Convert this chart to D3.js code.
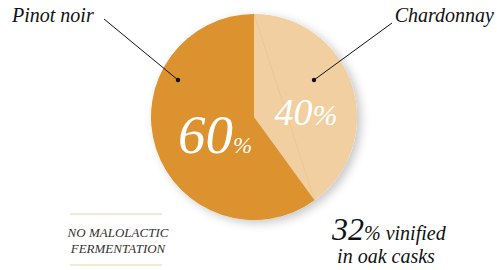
<!DOCTYPE html>
<html>
<head>
<meta charset="utf-8">
<script src="https://cdn.jsdelivr.net/npm/d3@7"></script>
<style>
  html, body { margin: 0; padding: 0; background: #fff; }
  svg { display: block; }
</style>
</head>
<body>
<div id="chart"></div>
<script>
    var categories = ["Chardonnay", "Pinot noir"];
    var values = [40, 60];
    var colors = ["#f1cfa1", "#dc922e"];
    var oakShare = 32;
    var noteLines = ["NO MALOLACTIC", "FERMENTATION"];

    var svg = d3.select("#chart")
                .append("svg")
                .attr("width", 497)
                .attr("height", 270);

    var cx = 254, cy = 117, radius = 103;

    function label(parent, x, y) {
      return parent.append("text")
                   .attr("x", x)
                   .attr("y", y)
                   .attr("font-family", "Liberation Serif")
                   .attr("font-style", "italic");
    }

    var defs = svg.append("defs");
    var shadow = defs.append("filter")
                     .attr("id", "shadow")
                     .attr("x", "-20%").attr("y", "-20%")
                     .attr("width", "140%").attr("height", "140%");
    shadow.append("feDropShadow")
          .attr("dx", 4).attr("dy", 3)
          .attr("stdDeviation", 5)
          .attr("flood-color", "#000")
          .attr("flood-opacity", 0.22);

    var data = categories.map((c, i) => ({ name: c, value: values[i], color: colors[i] }));

    var pie = d3.pie().sort(null).value(d => d.value);
    var arcs = pie(data);
    var arc = d3.arc().innerRadius(0).outerRadius(radius);

    var g = svg.append("g").attr("transform", `translate(${cx},${cy})`);

    g.append("g")
     .attr("filter", "url(#shadow)")
     .selectAll("path")
     .data(arcs)
     .enter()
     .append("path")
     .attr("d", arc)
     .attr("fill", d => d.data.color);

    // faint chord across the light slice
    var ch = arcs[0];
    g.append("line")
     .attr("x1", radius * Math.sin(ch.startAngle))
     .attr("y1", -radius * Math.cos(ch.startAngle))
     .attr("x2", radius * Math.sin(ch.endAngle))
     .attr("y2", -radius * Math.cos(ch.endAngle))
     .attr("stroke", "#c9924a")
     .attr("stroke-opacity", 0.25)
     .attr("stroke-width", 0.6);

    // percentage labels
    var pctPos = [{ x: 52, y: 8, big: 38, small: 30 }, { x: -39, y: 36, big: 55, small: 23 }];
    arcs.forEach((a, i) => {
      var p = pctPos[i];
      var t = label(g, p.x, p.y)
               .attr("text-anchor", "middle")
               .attr("fill", "#fff");
      t.append("tspan").attr("font-size", p.big).text(a.data.value);
      t.append("tspan").attr("font-size", p.small).text("%");
    });

    // category labels with leader lines
    var labelPos = [
      { tx: 494, ty: 22, anchor: "end", lx: 392, ly: 23, dx: 314, dy: 80 },
      { tx: 12, ty: 22, anchor: "start", lx: 104, ly: 19, dx: 178, dy: 80 }
    ];
    arcs.forEach((a, i) => {
      var p = labelPos[i];
      svg.append("line")
         .attr("x1", p.lx).attr("y1", p.ly)
         .attr("x2", p.dx).attr("y2", p.dy)
         .attr("stroke", "#111")
         .attr("stroke-width", 1);
      svg.append("circle")
         .attr("cx", p.dx).attr("cy", p.dy)
         .attr("r", 2.2)
         .attr("fill", "#111");
      label(svg, p.tx, p.ty)
         .attr("text-anchor", p.anchor)
         .attr("font-size", 20)
         .attr("fill", "#111")
         .text(a.data.name);
    });

    // note box bottom left
    svg.append("line")
       .attr("x1", 70).attr("x2", 162).attr("y1", 214).attr("y2", 214)
       .attr("stroke", "#f2dfc4").attr("stroke-width", 1.5);
    svg.append("line")
       .attr("x1", 70).attr("x2", 162).attr("y1", 265).attr("y2", 265)
       .attr("stroke", "#f2dfc4").attr("stroke-width", 1.5);
    noteLines.forEach((d, i) => {
      label(svg, 118, 237 + i * 16)
         .attr("text-anchor", "middle")
         .attr("font-size", 13)
         .attr("fill", "#333")
         .text(d);
    });

    // oak casks note
    var oak = label(svg, 332, 240).attr("fill", "#111");
    oak.append("tspan").attr("font-size", 32).text(oakShare);
    oak.append("tspan").attr("font-size", 20).text("% vinified");
    label(svg, 386, 263)
       .attr("text-anchor", "middle")
       .attr("font-size", 20)
       .attr("fill", "#111")
       .text("in oak casks");
</script>
</body>
</html>
